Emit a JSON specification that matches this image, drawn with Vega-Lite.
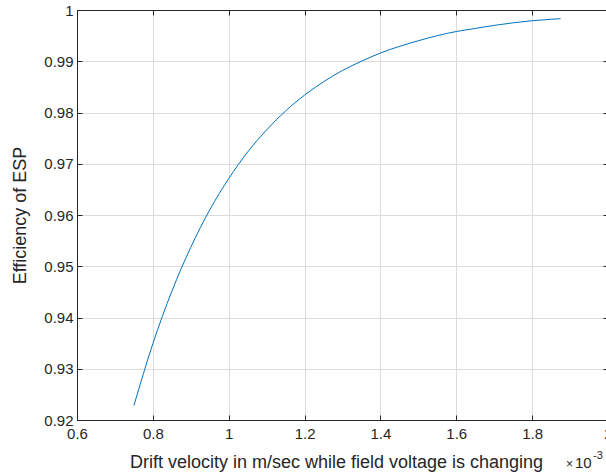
{
  "$schema": "https://vega.github.io/schema/vega-lite/v6.json",
  "autosize": {"type": "none"},
  "padding": {"left": 77, "top": 10, "right": 0, "bottom": 52},
  "width": 531,
  "height": 410,
  "background": "white",
  "config": {
    "view": {"stroke": null},
    "font": "Liberation Sans",
    "axis": {
      "domainColor": "#262626",
      "domainWidth": 1,
      "tickColor": "#262626",
      "tickSize": -5,
      "labelColor": "#262626",
      "labelFont": "Liberation Sans",
      "labelFontSize": 15,
      "titleFont": "Liberation Sans",
      "titleFontSize": 18,
      "titleFontWeight": "normal",
      "titleColor": "#262626",
      "gridColor": "#dcdcdc",
      "gridWidth": 1
    }
  },
  "data": {
    "values": [
      {"v": 0.00075, "eff": 0.9228},
      {"v": 0.00080, "eff": 0.9349},
      {"v": 0.00085, "eff": 0.9451},
      {"v": 0.00090, "eff": 0.9537},
      {"v": 0.00095, "eff": 0.9610},
      {"v": 0.00100, "eff": 0.9671},
      {"v": 0.00105, "eff": 0.9723},
      {"v": 0.00110, "eff": 0.9766},
      {"v": 0.00115, "eff": 0.9803},
      {"v": 0.00120, "eff": 0.9834},
      {"v": 0.00125, "eff": 0.9860},
      {"v": 0.00130, "eff": 0.9882},
      {"v": 0.00135, "eff": 0.9900},
      {"v": 0.00140, "eff": 0.9916},
      {"v": 0.00145, "eff": 0.9929},
      {"v": 0.00150, "eff": 0.9940},
      {"v": 0.00155, "eff": 0.9950},
      {"v": 0.00160, "eff": 0.9958},
      {"v": 0.00165, "eff": 0.9964},
      {"v": 0.00170, "eff": 0.9970},
      {"v": 0.00175, "eff": 0.9975},
      {"v": 0.00180, "eff": 0.9979},
      {"v": 0.00185, "eff": 0.9982},
      {"v": 0.001875, "eff": 0.9983}
    ]
  },
  "layer": [
    {
      "mark": {"type": "line", "color": "#0072BD", "strokeWidth": 1, "interpolate": "monotone", "clip": true},
      "encoding": {
        "x": {
          "field": "v", "type": "quantitative",
          "scale": {"domain": [0.0006, 0.002], "nice": false, "zero": false},
          "axis": {
            "orient": "bottom",
            "values": [0.0006, 0.0008, 0.001, 0.0012, 0.0014, 0.0016, 0.0018, 0.002],
            "labelExpr": "format(datum.value*1000, '.1~f')",
            "labelPadding": 11,
            "labelFlush": false,
            "labelOverlap": false,
            "grid": true,
            "title": "Drift velocity in m/sec while field voltage is changing",
            "titleX": 259,
            "titleAlign": "center",
            "titlePadding": 12
          }
        },
        "y": {
          "field": "eff", "type": "quantitative",
          "scale": {"domain": [0.92, 1], "nice": false, "zero": false},
          "axis": {
            "orient": "left",
            "values": [0.92, 0.93, 0.94, 0.95, 0.96, 0.97, 0.98, 0.99, 1],
            "format": ".2~f",
            "labelPadding": 9,
            "labelFlush": false,
            "labelOverlap": false,
            "grid": true,
            "title": "Efficiency of ESP",
            "titlePadding": 14
          }
        }
      }
    },
    {
      "mark": {"type": "line", "opacity": 0},
      "encoding": {
        "x": {
          "field": "v", "type": "quantitative",
          "scale": {"domain": [0.0006, 0.002], "nice": false, "zero": false},
          "axis": {
            "orient": "top",
            "values": [0.0006, 0.0008, 0.001, 0.0012, 0.0014, 0.0016, 0.0018, 0.002],
            "labels": false, "grid": false, "title": null
          }
        },
        "y": {
          "field": "eff", "type": "quantitative",
          "scale": {"domain": [0.92, 1], "nice": false, "zero": false},
          "axis": {
            "orient": "right",
            "values": [0.92, 0.93, 0.94, 0.95, 0.96, 0.97, 0.98, 0.99, 1],
            "labels": false, "grid": false, "title": null
          }
        }
      }
    },
    {
      "data": {"values": [{"v": 0.002, "eff": 0.92, "t": "×"}]},
      "mark": {"type": "text", "align": "right", "baseline": "alphabetic", "dx": -35, "dy": 48, "fontSize": 12, "color": "#262626", "clip": false},
      "encoding": {
        "x": {"field": "v", "type": "quantitative", "axis": null},
        "y": {"field": "eff", "type": "quantitative", "axis": null},
        "text": {"field": "t"}
      }
    },
    {
      "data": {"values": [{"v": 0.002, "eff": 0.92, "t": "10"}]},
      "mark": {"type": "text", "align": "left", "baseline": "alphabetic", "dx": -33, "dy": 48, "fontSize": 15, "color": "#262626", "clip": false},
      "encoding": {
        "x": {"field": "v", "type": "quantitative", "axis": null},
        "y": {"field": "eff", "type": "quantitative", "axis": null},
        "text": {"field": "t"}
      }
    },
    {
      "data": {"values": [{"v": 0.002, "eff": 0.92, "t": "-3"}]},
      "mark": {"type": "text", "align": "left", "baseline": "alphabetic", "dx": -15, "dy": 39, "fontSize": 11, "color": "#262626", "clip": false},
      "encoding": {
        "x": {"field": "v", "type": "quantitative", "axis": null},
        "y": {"field": "eff", "type": "quantitative", "axis": null},
        "text": {"field": "t"}
      }
    }
  ],
  "resolve": {"axis": {"x": "independent", "y": "independent"}}
}
